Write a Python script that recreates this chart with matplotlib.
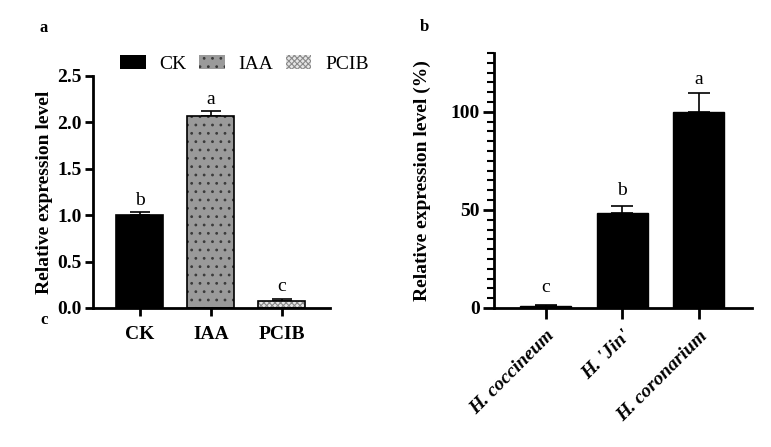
import matplotlib
matplotlib.use("Agg")
import matplotlib.pyplot as plt
from matplotlib.patches import Patch
from matplotlib.ticker import MultipleLocator

plt.rcParams['font.family'] = ['Liberation Serif', 'DejaVu Serif']
plt.rcParams['hatch.linewidth'] = 0.8

# Panel a data
cats_a = ["CK", "IAA", "PCIB"]
vals_a = [1.00, 2.07, 0.08]
errs_a = [0.03, 0.05, 0.02]
sig_a = ["b", "a", "c"]

# Panel b data
cats_b = ["H. coccineum", "H. 'Jin'", "H. coronarium"]
vals_b = [1.0, 48.5, 100.0]
errs_b = [0.3, 3.5, 9.5]
sig_b = ["c", "b", "a"]

fig = plt.figure(figsize=(7.71, 4.47), dpi=100)

FS = 14

# ---------------- Panel a ----------------
axa = fig.add_axes([0.1206, 0.311, 0.3074, 0.519])
fills = ["black", "#9a9a9a", "#e6e6e6"]
hatches = [None, "..", "xxxxxx"]
hcolors = ["black", "#3a3a3a", "#8a8a8a"]
xa = list(range(len(cats_a)))
w = 0.66
for i in xa:
    axa.bar(xa[i], vals_a[i], width=w, color=fills[i], edgecolor=hcolors[i],
            hatch=hatches[i], linewidth=0, zorder=2)
    axa.bar(xa[i], vals_a[i], width=w, color="none", edgecolor="black",
            linewidth=1.2, zorder=3)
axa.errorbar(xa, vals_a, yerr=[[0]*3, errs_a], fmt="none", ecolor="black",
             elinewidth=1.2, capsize=7, capthick=1.2, zorder=1)
for i in xa:
    axa.text(xa[i], vals_a[i] + errs_a[i] + 0.13, sig_a[i], ha="center",
             va="center", fontsize=FS)
axa.set_xlim(-0.66, 2.68)
axa.set_ylim(0, 2.5)
axa.set_yticks([0, 0.5, 1.0, 1.5, 2.0, 2.5])
axa.set_yticklabels(["0.0", "0.5", "1.0", "1.5", "2.0", "2.5"])
axa.set_xticks(xa)
axa.set_xticklabels(cats_a, fontweight="bold", fontsize=FS)
for lab in axa.get_yticklabels():
    lab.set_fontweight("bold")
    lab.set_fontsize(FS)
axa.tick_params(axis="both", width=2, length=6, pad=2)
axa.tick_params(axis="x", pad=7)
for s in ["top", "right"]:
    axa.spines[s].set_visible(False)
for s in ["left", "bottom"]:
    axa.spines[s].set_linewidth(2)
axa.set_ylabel("Relative expression level", fontweight="bold", fontsize=FS, labelpad=3)

handles = [Patch(facecolor=fills[i], edgecolor=hcolors[i], hatch=hatches[i], linewidth=0)
           for i in xa]
axa.legend(handles, cats_a, loc="center left", bbox_to_anchor=(0.115, 1.052),
           ncol=3, frameon=False, fontsize=FS, handlelength=1.3, handleheight=0.75,
           columnspacing=0.65, handletextpad=0.72, borderaxespad=0, borderpad=0)

# ---------------- Panel b ----------------
axb = fig.add_axes([0.6407, 0.311, 0.3347, 0.5704])
xb = list(range(len(cats_b)))
axb.bar(xb, vals_b, width=0.67, color="black", edgecolor="black", linewidth=1, zorder=2)
axb.errorbar(xb, vals_b, yerr=[[0]*3, errs_b], fmt="none", ecolor="black",
             elinewidth=1.2, capsize=8, capthick=1.2, zorder=1)
offs_b = [9, 8, 7]
for i in xb:
    axb.text(xb[i], vals_b[i] + errs_b[i] + offs_b[i], sig_b[i], ha="center",
             va="center", fontsize=FS)
axb.set_xlim(-0.68, 2.70)
axb.set_ylim(0, 130)
axb.set_yticks([0, 50, 100])
axb.yaxis.set_minor_locator(MultipleLocator(5))
axb.set_xticks(xb)
axb.set_xticklabels(cats_b, fontweight="bold", fontstyle="italic", fontsize=FS,
                    rotation=45, ha="right", rotation_mode="anchor")
for lab in axb.get_yticklabels():
    lab.set_fontweight("bold")
    lab.set_fontsize(FS)
axb.tick_params(axis="both", which="major", width=2, length=8, pad=2)
axb.tick_params(axis="y", which="minor", width=1.5, length=5)
axb.tick_params(axis="x", pad=6)
for s in ["top", "right"]:
    axb.spines[s].set_visible(False)
for s in ["left", "bottom"]:
    axb.spines[s].set_linewidth(2)
axb.set_ylabel("Relative expression level (%)", fontweight="bold", fontsize=FS, labelpad=14)

# panel letters
fig.text(40 / 771, 1 - 28 / 447, "a", fontweight="bold", fontsize=12, ha="left", va="center")
fig.text(420 / 771, 1 - 27 / 447, "b", fontweight="bold", fontsize=12, ha="left", va="center")
fig.text(40 / 771, 1 - 320 / 447, "c", fontweight="bold", fontsize=12, ha="left", va="center")

fig.savefig("out.png", dpi=100)
